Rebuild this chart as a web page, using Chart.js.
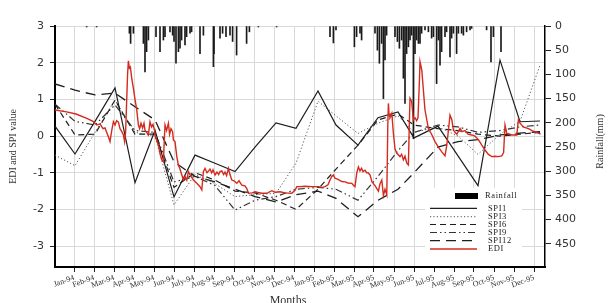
<!DOCTYPE html>
<html>
<head>
<meta charset="utf-8">
<script src="https://cdn.jsdelivr.net/npm/chart.js@4.4.1/dist/chart.umd.min.js"></script>
<style>
  body { margin: 0; background: #fff; }
  #wrap { width: 609px; height: 303px; }
</style>
</head>
<body>
<div id="wrap"><canvas id="ediChart" width="609" height="303"></canvas></div>
<script>
// EDI / SPI chart with daily rainfall hanging from the top

const months = ['Jan-94', 'Feb-94', 'Mar-94', 'Apr-94', 'May-94', 'Jun-94', 'July-94', 'Aug-94',
    'Sep-94', 'Oct-94', 'Nov-94', 'Dec-94', 'Jan-95', 'Feb-95', 'Mar-95', 'Apr-95', 'May-95',
    'Jun-95', 'Jul-95', 'Aug-95', 'Sep-95', 'Oct-95', 'Nov-95', 'Dec-95'];
const indexTicks = [-3, -2, -1, 0, 1, 2, 3];
const rainTicks = [0, 50, 100, 150, 200, 250, 300, 350, 400, 450];

// monthly SPI points (month index on the x axis, first point is Dec-93 at the left edge)
const spiPos = [-0.95, 0.05, 1.05, 2.05, 3.05, 4.05, 5.0, 6.05, 7.05, 8.05, 9.05, 10.1, 11.1,
    12.2, 13.1, 14.2, 15.2, 16.2, 17.0, 18.2, 19.2, 20.2, 21.3, 22.3, 23.3];
const spi1 = [0.27, -0.49, 0.40, 1.31, -1.27, 0.16, -1.66, -0.52, -0.74, -0.97, -0.30, 0.36, 0.21,
    1.23, 0.30, -0.25, 0.50, 0.66, -0.05, 0.27, -0.54, -1.35, 2.07, 0.39, 0.41];
const spi3 = [-0.52, -0.81, 0.10, 0.98, 0.10, 0.00, -1.88, -1.05, -1.30, -1.65, -1.60, -1.56, -0.74,
    0.95, 0.55, 0.07, 0.35, 0.55, 0.10, 0.25, 0.00, -0.50, 0.05, 0.40, 1.93];
const spi6 = [0.87, 0.03, 0.05, 0.98, 0.05, 0.05, -1.40, -1.00, -1.20, -1.50, -1.55, -1.75, -2.00,
    -1.45, -0.90, -0.25, 0.44, 0.60, 0.30, 0.20, 0.15, 0.05, 0.00, 0.05, 0.10];
const spi9 = [0.87, 0.40, 0.30, 0.85, 0.15, 0.10, -1.25, -1.10, -1.35, -2.02, -1.75, -1.65, -1.45,
    -1.40, -1.45, -1.75, -1.10, -0.40, 0.10, 0.30, 0.25, 0.10, 0.15, 0.25, 0.30];
const spi12 = [1.42, 1.25, 1.12, 1.17, 0.80, 0.44, -0.70, -1.10, -1.25, -1.45, -1.65, -1.80, -1.60,
    -1.50, -1.70, -2.20, -1.75, -1.45, -1.00, -0.30, -0.15, -0.10, 0.03, 0.08, 0.12];

// daily EDI (position in months, value)
const ediX = [-0.95, -0.37, 0.10, 0.64, 0.95, 1.14, 1.30, 1.45, 1.55, 1.72, 1.80, 1.89, 1.97, 2.05,
    2.13, 2.22, 2.30, 2.39, 2.47, 2.53, 2.58, 2.63, 2.68, 2.72, 2.77, 2.82, 2.88, 2.97, 3.05, 3.14,
    3.22, 3.28, 3.35, 3.43, 3.50, 3.55, 3.63, 3.72, 3.80, 3.88, 3.95, 4.03, 4.08, 4.14, 4.22, 4.30,
    4.39, 4.47, 4.50, 4.55, 4.63, 4.72, 4.78, 4.85, 4.93, 4.97, 5.05, 5.14, 5.22, 5.30, 5.39, 5.47,
    5.55, 5.64, 5.72, 5.80, 5.97, 6.14, 6.30, 6.39, 6.47, 6.55, 6.65, 6.73, 6.80, 6.88, 6.95, 7.05,
    7.15, 7.23, 7.30, 7.39, 7.48, 7.55, 7.63, 7.72, 7.80, 7.89, 8.00, 8.14, 8.25, 8.39, 8.55, 8.64,
    8.72, 8.90, 9.05, 9.20, 9.39, 9.64, 9.89, 10.05, 10.30, 10.55, 10.89, 11.05, 11.14, 11.30, 11.55,
    11.89, 12.22, 12.40, 12.55, 12.70, 12.80, 12.89, 12.97, 13.05, 13.20, 13.39, 13.55, 13.70, 13.89,
    13.98, 14.05, 14.14, 14.22, 14.30, 14.38, 14.45, 14.55, 14.63, 14.70, 14.80, 14.90, 15.05, 15.22,
    15.30, 15.39, 15.47, 15.55, 15.64, 15.69, 15.72, 15.75, 15.80, 15.89, 15.97, 16.05, 16.14, 16.30,
    16.38, 16.47, 16.55, 16.64, 16.72, 16.76, 16.80, 16.88, 16.97, 17.05, 17.13, 17.20, 17.27, 17.30,
    17.39, 17.47, 17.55, 17.72, 17.88, 18.05, 18.22, 18.39, 18.55, 18.64, 18.73, 18.80, 18.89, 18.97,
    19.14, 19.30, 19.40, 19.55, 19.70, 19.89, 20.05, 20.22, 20.39, 20.55, 20.72, 20.89, 21.05, 21.20,
    21.39, 21.48, 21.55, 21.64, 21.89, 22.14, 22.22, 22.30, 22.47, 22.72, 22.90, 23.14, 23.33];
const ediY = [0.71, 0.66, 0.60, 0.48, 0.40, 0.30, 0.33, 0.20, 0.22, -0.02, -0.15, 0.16, 0.39, 0.30,
    0.42, 0.38, 0.20, 0.12, 0.03, -0.15, 0.10, 0.90, 1.70, 2.05, 1.85, 1.88, 1.60, 1.30, 1.00, 0.70,
    0.30, 0.20, 0.35, 0.22, 0.35, 0.16, 0.10, 0.03, 0.39, 0.25, 0.32, 0.15, -0.05, -0.11, -0.25, -0.47,
    -0.65, -0.70, -0.30, 0.30, 0.15, 0.35, 0.05, 0.20, 0.12, -0.11, -0.15, -0.56, -0.80, -0.90, -1.06, -1.20,
    -1.10, -1.20, -0.97, -1.05, -1.20, -1.29, -1.38, -1.47, -0.97, -0.88, -1.00, -0.95, -0.90, -1.00, -0.92, -1.06,
    -0.98, -1.05, -0.97, -0.95, -1.05, -0.98, -1.08, -0.88, -1.05, -1.20, -1.22, -1.29, -1.22, -1.34, -1.36, -1.43,
    -1.56, -1.55, -1.52, -1.54, -1.56, -1.56, -1.49, -1.53, -1.52, -1.55, -1.56, -1.48, -1.38, -1.38, -1.37,
    -1.38, -1.38, -1.40, -1.38, -1.33, -1.20, -1.10, -1.06, -1.15, -1.18, -1.24, -1.25, -1.28, -1.29,
    -1.35, -1.38, -1.00, -0.84, -0.95, -0.88, -0.97, -0.93, -1.00, -1.00, -1.06, -1.25, -1.35, -1.50,
    -1.30, -1.20, -1.62, -1.45, -1.60, 0.30, 0.89, 0.62, 0.50, 0.62, 0.07, -0.35, -0.47, -0.56,
    -0.50, -0.65, -0.55, -0.74, -0.79, 0.20, 1.03, 0.95, 0.44, 0.50, 0.42, 0.50, 1.50, 2.03,
    1.80, 1.25, 0.71, 0.20, 0.05, -0.15, -0.30, -0.43, -0.54, -0.25, 0.20, 0.57, 0.45, 0.16,
    0.05, 0.21, 0.12, 0.15, 0.05, 0.03, 0.00, -0.10, -0.25, -0.38, -0.50, -0.56, -0.55, -0.56,
    -0.54, -0.45, 0.30, 0.07, 0.03, 0.03, 0.44, 0.35, 0.25, 0.20, 0.15, 0.10, 0.05];

// daily rainfall in mm (position in months)
const rainX = [0.63, 1.13, 2.77, 2.83, 2.97, 3.47, 3.55, 3.63, 3.72, 4.10, 4.30, 4.47, 4.55, 4.80,
    4.93, 5.00, 5.10, 5.22, 5.30, 5.38, 5.55, 5.63, 5.80, 5.88, 6.30, 6.47, 6.97, 7.00, 7.30, 7.43,
    7.60, 7.80, 7.93, 8.13, 8.63, 8.77, 9.22, 10.13, 12.80, 12.97, 13.10, 14.02, 14.13, 14.30, 14.38,
    15.05, 15.17, 15.27, 15.38, 15.47, 15.55, 15.63, 16.05, 16.17, 16.27, 16.38, 16.47, 16.55, 16.63,
    16.72, 16.80, 16.88, 16.97, 17.05, 17.13, 17.22, 17.30, 17.38, 17.55, 17.72, 17.88, 17.97, 18.13,
    18.22, 18.30, 18.38, 18.55, 18.63, 18.80, 18.88, 18.97, 19.13, 19.22, 19.38, 19.47, 19.63, 19.80,
    19.88, 20.63, 20.85, 20.97, 21.35];
const rainMM = [2, 2, 15, 36, 15, 36, 95, 53, 29, 22, 53, 29, 22, 12, 19, 32, 77, 53, 46, 29, 39, 22,
    15, 12, 57, 19, 84, 57, 25, 15, 22, 19, 32, 60, 36, 12, 2, 2, 22, 35, 8, 43, 22, 15, 29,
    15, 50, 77, 36, 150, 70, 19, 22, 32, 46, 29, 108, 160, 57, 43, 29, 19, 233, 57, 29, 36, 36, 15,
    8, 12, 25, 22, 119, 29, 81, 53, 22, 12, 64, 25, 15, 57, 15, 15, 19, 12, 8, 5, 8, 74, 22, 53];

const pts = (xs, ys) => ys.map((v, i) => ({ x: xs[i], y: v }));

const serif = 'Liberation Serif';
const gridColor = '#d9d9d9';

const lineSet = (label, data, color, dash, width) => ({
    type: 'line', label: label, data: data, yAxisID: 'y',
    borderColor: color, borderWidth: width, borderDash: dash,
    pointRadius: 0, tension: 0, fill: false, order: 1
});

// legend + axis titles drawn by hand (legend layout is not a standard Chart.js one)
const decorations = {
    id: 'decorations',
    afterDraw(chart) {
        const ctx = chart.ctx;
        const a = chart.chartArea;
        ctx.save();

        ctx.fillStyle = '#fff';
        ctx.fillRect(a.right - 120, a.bottom - 79, 97, 78);

        ctx.font = '8.5px "' + serif + '"';
        ctx.letterSpacing = '0.6px';
        ctx.textBaseline = 'middle';
        ctx.textAlign = 'left';

        // rainfall swatch
        ctx.fillStyle = '#000';
        ctx.fillRect(a.right - 90, a.bottom - 74, 23, 6);
        ctx.fillStyle = '#222';
        ctx.fillText('Rainfall', a.right - 60, a.bottom - 71);

        const rows = [-58.7, -50.3, -42.5, -34.5, -26.3, -18];
        chart.data.datasets.filter(d => d.type === 'line').forEach((d, i) => {
            const y = a.bottom + rows[i];
            ctx.strokeStyle = d.borderColor;
            ctx.lineWidth = d.borderWidth;
            ctx.setLineDash(d.borderDash || []);
            ctx.beginPath();
            ctx.moveTo(a.right - 115, y);
            ctx.lineTo(a.right - 68, y);
            ctx.stroke();
            ctx.fillStyle = '#222';
            ctx.fillText(d.label, a.right - 57, y);
        });
        ctx.setLineDash([]);
        ctx.letterSpacing = '0px';

        // axis titles
        ctx.fillStyle = '#333';
        ctx.textAlign = 'center';
        ctx.font = '10px "' + serif + '"';
        ctx.save();
        ctx.translate(13.5, (a.top + a.bottom) / 2);
        ctx.rotate(-Math.PI / 2);
        ctx.fillText('EDI and SPI value', 0, 0);
        ctx.restore();

        ctx.save();
        ctx.translate(600, (a.top + a.bottom) / 2 - 5);
        ctx.rotate(-Math.PI / 2);
        ctx.fillText('Rainfall(mm)', 0, 0);
        ctx.restore();

        ctx.font = '12px "' + serif + '"';
        ctx.fillText('Months', 288, 301);
        ctx.restore();
    }
};

new Chart(document.getElementById('ediChart'), {
    data: {
        datasets: [
            lineSet('SPI1', pts(spiPos, spi1), '#1e1e1e', [], 1.2),
            lineSet('SPI3', pts(spiPos, spi3), '#555', [1.2, 2.2], 1),
            lineSet('SPI6', pts(spiPos, spi6), '#1e1e1e', [6, 4], 1.2),
            lineSet('SPI9', pts(spiPos, spi9), '#333', [7, 3, 1.5, 3, 1.5, 3], 1.2),
            lineSet('SPI12', pts(spiPos, spi12), '#1e1e1e', [10, 6], 1.3),
            {
                type: 'line', label: 'EDI', data: pts(ediX, ediY), yAxisID: 'y',
                borderColor: '#d42b1e', borderWidth: 1.4, pointRadius: 0, tension: 0,
                fill: false, order: 0
            },
            {
                type: 'bar', label: 'Rainfall', data: pts(rainX, rainMM), yAxisID: 'y2',
                backgroundColor: '#1a1a1a', barThickness: 1, order: 2
            }
        ]
    },
    options: {
        responsive: false,
        animation: false,
        devicePixelRatio: 1,
        layout: { padding: { top: 26, left: 0, right: 0, bottom: 0 } },
        plugins: { legend: { display: false }, tooltip: { enabled: false } },
        scales: {
            x: {
                type: 'linear', min: -0.95, max: 23.55, offset: false,
                afterBuildTicks: s => { s.ticks = months.map((m, i) => ({ value: i })); },
                afterFit: s => { s.height = 36; },
                grid: { color: gridColor, tickLength: 5, tickColor: '#222', offset: false },
                border: { color: '#000', width: 2 },
                ticks: {
                    autoSkip: false, minRotation: 20, maxRotation: 20, padding: 1,
                    color: '#333', font: { family: serif, size: 8 },
                    callback: (v, i) => months[i]
                }
            },
            y: {
                position: 'left', min: -3.57, max: 3,
                afterBuildTicks: s => { s.ticks = indexTicks.map(v => ({ value: v })); },
                afterFit: s => { s.width = 55; },
                grid: { color: gridColor, tickLength: 5, tickColor: '#222' },
                border: { color: '#000', width: 2 },
                ticks: { padding: 6, color: '#333', font: { family: 'DejaVu Sans', size: 11 } }
            },
            y2: {
                position: 'right', reverse: true, min: 0, max: 498,
                afterBuildTicks: s => { s.ticks = rainTicks.map(v => ({ value: v })); },
                afterFit: s => { s.width = 64; },
                grid: { drawOnChartArea: false, tickLength: 6, tickColor: '#222' },
                border: { color: '#000', width: 1.5 },
                ticks: { padding: 4, color: '#333', font: { family: 'DejaVu Sans', size: 11 } }
            }
        }
    },
    plugins: [decorations]
});
</script>
</body>
</html>
